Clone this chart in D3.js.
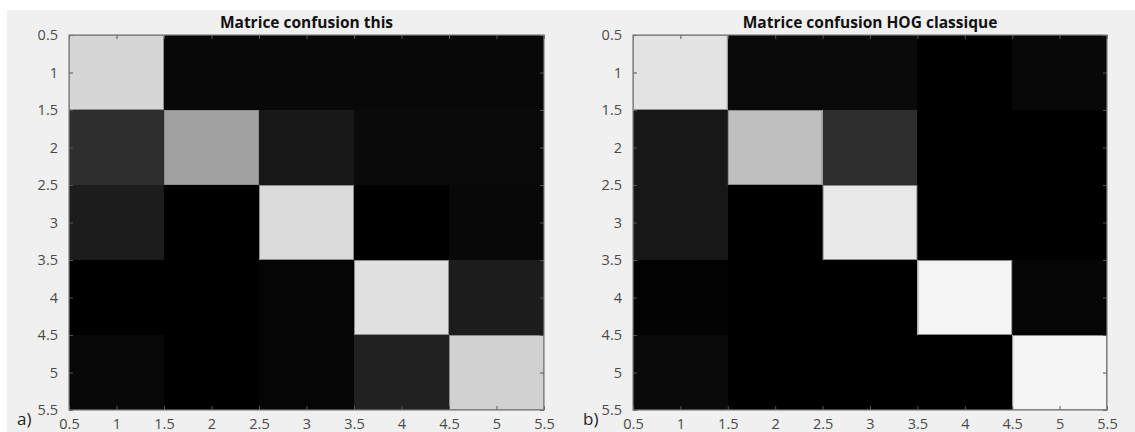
<!DOCTYPE html>
<html>
<head>
<meta charset="utf-8">
<script src="https://cdn.jsdelivr.net/npm/d3@7"></script>
<style>
  html, body { margin: 0; padding: 0; background: #ffffff; }
  svg { display: block; }
  text { font-family: "Open Sans", "DejaVu Sans", sans-serif; }
</style>
</head>
<body>
<svg id="chart" width="1135" height="432"></svg>
<script>
// ---- Data ----
const classes = [1, 2, 3, 4, 5];
const tickValues = [0.5, 1, 1.5, 2, 2.5, 3, 3.5, 4, 4.5, 5, 5.5];
const tickLabels = ["0.5", "1", "1.5", "2", "2.5", "3", "3.5", "4", "4.5", "5", "5.5"];

const titleA = "Matrice confusion this";
const titleB = "Matrice confusion HOG classique";
const panelLabels = ["a)", "b)"];

// rows = true class (y), columns = predicted (x); values in [0,1]
const matrixThis = [
  [0.84, 0.03, 0.03, 0.03, 0.03],
  [0.18, 0.63, 0.09, 0.04, 0.04],
  [0.11, 0.00, 0.86, 0.00, 0.03],
  [0.00, 0.00, 0.02, 0.88, 0.11],
  [0.03, 0.00, 0.02, 0.13, 0.82]
];
const matrixHOG = [
  [0.89, 0.04, 0.04, 0.00, 0.03],
  [0.09, 0.75, 0.18, 0.00, 0.00],
  [0.09, 0.00, 0.91, 0.00, 0.00],
  [0.01, 0.00, 0.00, 0.96, 0.02],
  [0.04, 0.00, 0.00, 0.00, 0.96]
];

// ---- Drawing ----
const svg = d3.select("#chart");
svg.append("rect").attr("x", 7).attr("y", 10).attr("width", 1128).attr("height", 422).attr("fill", "#f0f0f0");

const color = d3.scaleLinear().domain([0, 1]).range(["#000000", "#ffffff"]).interpolate(d3.interpolateRgb);

const panels = [
  { data: matrixThis, title: titleA, label: panelLabels[0], x0: 69, x1: 544, labelX: 17 },
  { data: matrixHOG, title: titleB, label: panelLabels[1], x0: 633, x1: 1107, labelX: 583 }
];
const plotTop = 35, plotBottom = 410;

panels.forEach(p => {
  const x = d3.scaleLinear().domain([0.5, 5.5]).range([p.x0, p.x1]);
  const y = d3.scaleLinear().domain([0.5, 5.5]).range([plotTop, plotBottom]);
  const g = svg.append("g");

  const cells = [];
  p.data.forEach((row, i) => row.forEach((v, j) => cells.push({ r: classes[i], c: classes[j], v })));

  g.selectAll("rect.cell").data(cells).enter().append("rect")
    .attr("class", "cell")
    .attr("x", d => x(d.c - 0.5))
    .attr("y", d => y(d.r - 0.5))
    .attr("width", d => x(d.c + 0.5) - x(d.c - 0.5))
    .attr("height", d => y(d.r + 0.5) - y(d.r - 0.5))
    .attr("fill", d => color(d.v))
    .attr("shape-rendering", "crispEdges");

  g.selectAll("rect.edge").data(cells.filter(d => d.v > 0.5)).enter().append("rect")
    .attr("class", "edge")
    .attr("x", d => x(d.c - 0.5) + 0.5)
    .attr("y", d => y(d.r - 0.5) + 0.5)
    .attr("width", d => x(d.c + 0.5) - x(d.c - 0.5) - 1)
    .attr("height", d => y(d.r + 0.5) - y(d.r - 0.5) - 1)
    .attr("fill", "none")
    .attr("stroke", "#8c8c8c")
    .attr("stroke-width", 1);

  const fmt = d => tickLabels[tickValues.indexOf(d)];
  const axisStyle = sel => {
    sel.select(".domain").remove();
    sel.selectAll(".tick line").attr("stroke", "#555");
    sel.selectAll(".tick text").attr("fill", "#4a4a4a").style("font-size", "14.5px");
  };

  g.append("g").attr("transform", `translate(0,${plotBottom})`)
    .call(d3.axisBottom(x).tickValues(tickValues).tickFormat(fmt).tickSizeInner(-4).tickSizeOuter(0).tickPadding(9))
    .call(axisStyle);
  g.append("g").attr("transform", `translate(0,${plotTop})`)
    .call(d3.axisTop(x).tickValues(tickValues).tickFormat("").tickSizeInner(-4).tickSizeOuter(0))
    .call(axisStyle);
  g.append("g").attr("transform", `translate(${p.x0},0)`)
    .call(d3.axisLeft(y).tickValues(tickValues).tickFormat(fmt).tickSizeInner(-4).tickSizeOuter(0).tickPadding(11))
    .call(axisStyle);
  g.append("g").attr("transform", `translate(${p.x1},0)`)
    .call(d3.axisRight(y).tickValues(tickValues).tickFormat("").tickSizeInner(-4).tickSizeOuter(0))
    .call(axisStyle);

  g.append("rect").attr("x", p.x0).attr("y", plotTop).attr("width", p.x1 - p.x0).attr("height", plotBottom - plotTop)
    .attr("fill", "none").attr("stroke", "#7f7f7f").attr("stroke-width", 1.2);

  g.append("text").attr("x", (p.x0 + p.x1) / 2).attr("y", 28)
    .attr("text-anchor", "middle").style("font-size", "15.5px").style("font-weight", "bold")
    .attr("fill", "#111").text(p.title);

  g.append("text").attr("x", p.labelX).attr("y", 425)
    .style("font-size", "17px").attr("fill", "#222").text(p.label);
});
</script>
</body>
</html>
